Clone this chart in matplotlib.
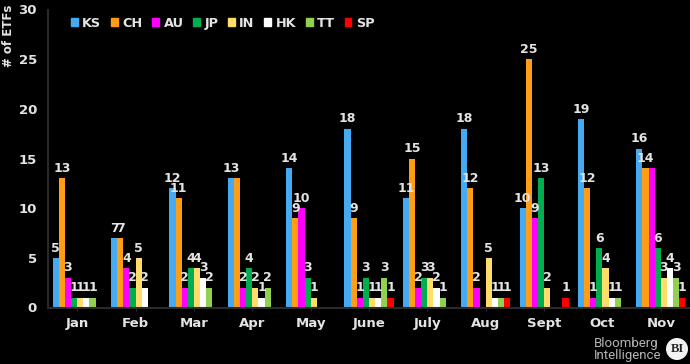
import matplotlib
matplotlib.use('Agg')
import matplotlib.pyplot as plt
from matplotlib.patches import Patch, Circle
import numpy as np

months = ['Jan', 'Feb', 'Mar', 'Apr', 'May', 'June', 'July', 'Aug', 'Sept', 'Oct', 'Nov']
KS = [5, 7, 12, 13, 14, 18, 11, 18, 10, 19, 16]
CH = [13, 7, 11, 13, 9, 9, 15, 12, 25, 12, 14]
AU = [3, 4, 2, 2, 10, 1, 2, 2, 9, 1, 14]
JP = [1, 2, 4, 4, 3, 3, 3, 0, 13, 6, 6]
IN = [1, 5, 4, 2, 1, 1, 3, 5, 2, 4, 3]
HK = [1, 2, 3, 1, 0, 1, 2, 1, 0, 1, 4]
TT = [1, 0, 2, 2, 0, 3, 1, 1, 0, 1, 3]
SP = [0, 0, 0, 0, 0, 1, 0, 1, 1, 0, 1]

names = ['KS', 'CH', 'AU', 'JP', 'IN', 'HK', 'TT', 'SP']
series = [KS, CH, AU, JP, IN, HK, TT, SP]
colors = ['#45aaf2', '#ff9e14', '#ff00ff', '#00ad4f', '#ffdd6b', '#ffffff', '#92d050', '#ff0000']
yticks = [0, 5, 10, 15, 20, 25, 30]
# the reference shows only one label where two equal bars touch
no_label = [('CH', 'Apr'), ('AU', 'Nov')]

txt = '#e4e4e4'
W, H = 690, 364

fig = plt.figure(figsize=(6.9, 3.64), dpi=100, facecolor='black')
ax = fig.add_axes([48 / W, 1 - 307.5 / H, (W - 48) / W, 298 / H], facecolor='black')

x = np.arange(len(months))
w = 0.105
for i, (vals, c) in enumerate(zip(series, colors)):
    pos = x + (i - 3.5) * w
    ax.bar(pos, vals, w, color=c, linewidth=0)
    for p, v, m in zip(pos, vals, months):
        if v > 0 and (names[i], m) not in no_label:
            ax.annotate(str(v), (p, v), xytext=(0, 4.5), textcoords='offset points',
                        ha='center', va='baseline', color=txt, fontsize=9, fontweight='bold')

ax.set_xlim(-0.5, len(months) - 0.5)
ax.set_ylim(0, 30)
ax.set_xticks(x)
ax.set_xticklabels(months, color=txt, fontsize=9.5, fontweight='bold')
ax.set_yticks(yticks)
ax.set_yticklabels(yticks, color=txt, fontsize=9.5, fontweight='bold')
ax.tick_params(axis='x', length=2, color='#2a2a2a', pad=5)
ax.tick_params(axis='y', length=0, pad=8)
for s in ['top', 'right']:
    ax.spines[s].set_visible(False)
for s in ['left', 'bottom']:
    ax.spines[s].set_color('#2a2a2a')
    ax.spines[s].set_linewidth(1.5)

handles = [Patch(color=c, label=n) for n, c in zip(names, colors)]
ax.legend(handles=handles, ncol=8, frameon=False, loc='upper left',
          bbox_to_anchor=(0.036, 0.975), prop={'size': 9.3, 'weight': 'bold'},
          labelcolor=txt, handlelength=0.52, handleheight=0.55, handletextpad=0.35,
          columnspacing=0.75, borderpad=0, borderaxespad=0)

fig.text(9 / W, 1 - 36 / H, '# of ETFs', rotation=90, ha='center', va='center',
         color=txt, fontsize=8.5, fontweight='bold')

fig.text(594 / W, 1 - 343 / H, 'Bloomberg', ha='left', va='center', color='#b5b5b5',
         fontsize=9.5, family='Roboto')
fig.text(594 / W, 1 - 356 / H, 'Intelligence', ha='left', va='center', color='#b5b5b5',
         fontsize=9.5, family='Roboto')
overlay = fig.add_axes([0, 0, 1, 1], facecolor='none')
overlay.set_xlim(0, W)
overlay.set_ylim(H, 0)
overlay.axis('off')
overlay.add_patch(Circle((677, 349), 11, color='#f2f2f2', linewidth=0))
overlay.text(677, 349, 'BI', ha='center', va='center', color='#222222', fontsize=9,
             fontweight='bold', family='Liberation Serif')

fig.savefig('out.png', dpi=100, facecolor='black')
